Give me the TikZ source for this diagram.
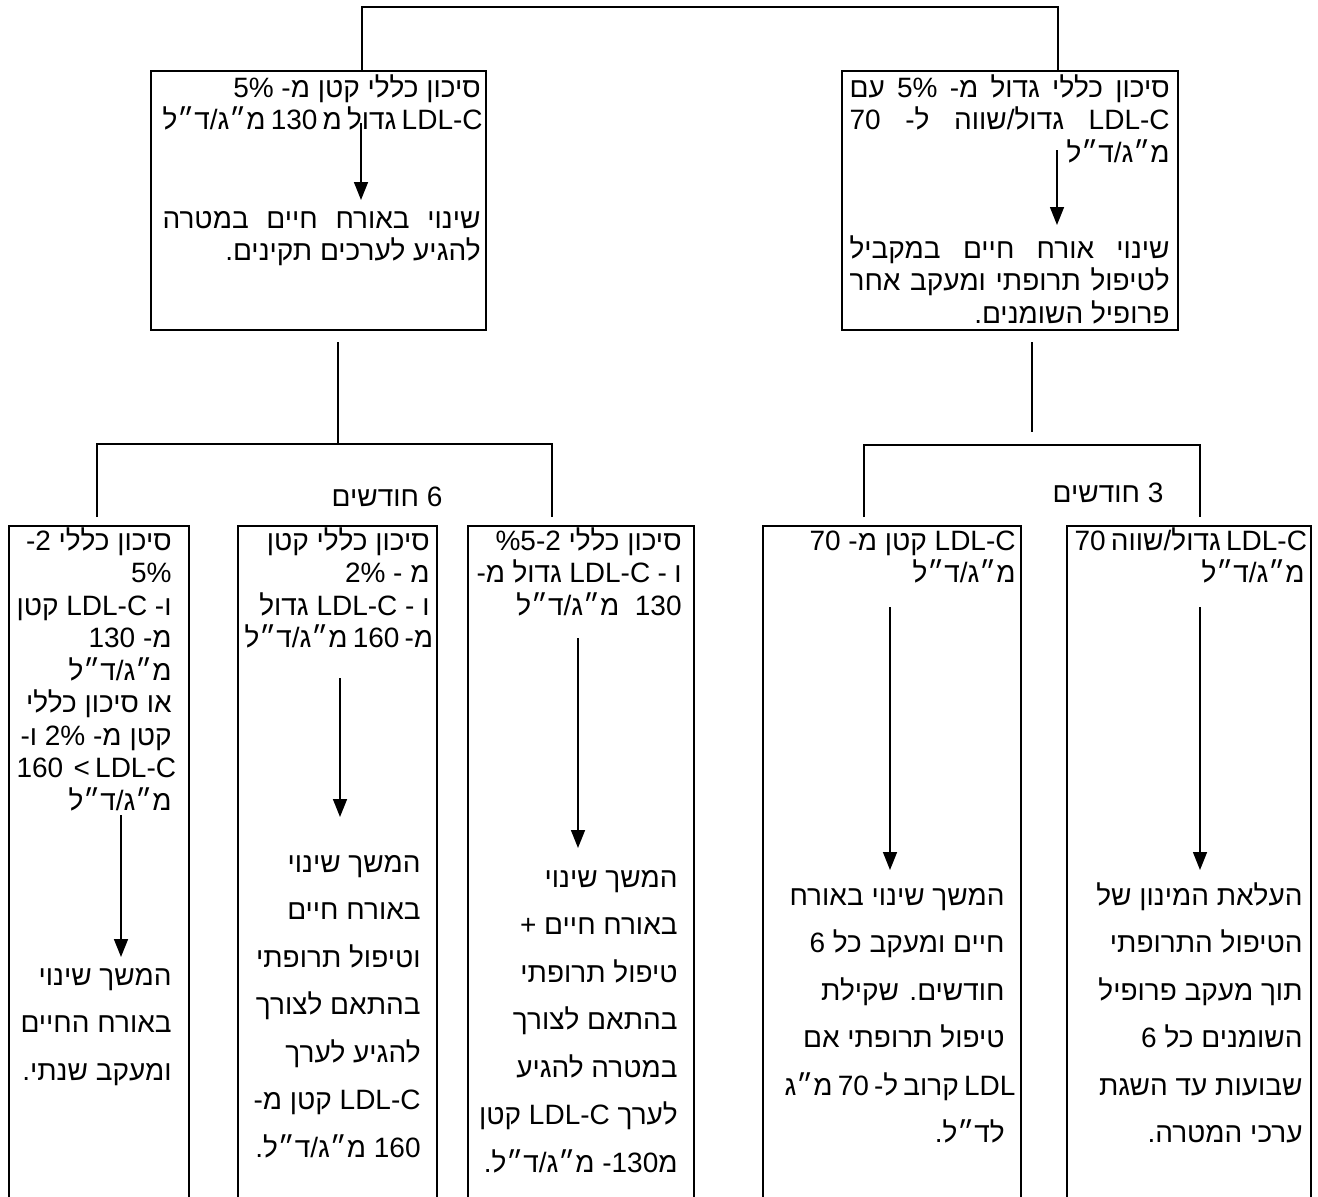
\documentclass[tikz,border=0pt]{standalone}
\usepackage{fontspec}
\setmainfont{Liberation Sans}
\newfontfamily\heb[Script=Hebrew]{Liberation Sans}
\TeXXeTstate=1
\usetikzlibrary{arrows.meta}

\newcommand\rl[1]{\hbox to\hsize{\hfil\beginR #1\endR}}
\newcommand\jl[1]{\hbox to\hsize{\spaceskip=.25em plus 1fil\beginR #1\endR}}

\tikzset{
  box/.style={draw, line width=1.2pt, inner sep=0pt},
  link/.style={line width=.75pt},
  arr/.style={line width=.75pt, -{Triangle[length=9pt,width=7pt]}},
  tight/.style={anchor=base east, inner sep=0pt, font={\heb\fontsize{14}{16.25}\selectfont}},
  loose/.style={tight, font={\heb\fontsize{14}{23.75}\selectfont}},
  months/.style={inner sep=0pt, font={\heb\fontsize{14}{16.25}\selectfont}},
}

\begin{document}
\begin{tikzpicture}[x=.5pt, y=-.5pt]
  \useasboundingbox (0,0) rectangle (1318,1196);

  \node[box, minimum width=167.5pt, minimum height=129.5pt] (tl) at (318.5,200.5) {};
  \node[box, minimum width=168pt,   minimum height=129.5pt] (tr) at (1010,200.5)  {};
  \node[box, minimum width=90pt,    minimum height=339pt]   (b1) at (99,865)     {};
  \node[box, minimum width=99.5pt,  minimum height=339pt]   (b2) at (337.5,865)  {};
  \node[box, minimum width=113pt,   minimum height=339pt]   (b3) at (581,865)    {};
  \node[box, minimum width=129pt,   minimum height=339pt]   (b4) at (892,865)    {};
  \node[box, minimum width=122pt,   minimum height=339pt]   (b5) at (1189,865)   {};

  % top
  \node[tight] (tla) at (481,97) {\parbox[t]{159pt}{%
    \rl{סיכון כללי קטן מ- 5\%}
    \rl{LDL-C גדול מ 130 מ״ג/ד״ל}}};
  \node[tight] (tlb) at (481,228) {\parbox[t]{159pt}{%
    \jl{שינוי באורח חיים במטרה}
    \rl{להגיע לערכים תקינים.}}};
  \node[tight] (tra) at (1170,97) {\parbox[t]{160pt}{%
    \jl{סיכון כללי גדול מ- 5\% עם}
    \jl{LDL-C גדול/שווה ל- 70}
    \rl{מ״ג/ד״ל}}};
  \node[tight] (trb) at (1170,258) {\parbox[t]{160pt}{%
    \jl{שינוי אורח חיים במקביל}
    \jl{לטיפול תרופתי ומעקב אחר}
    \rl{פרופיל השומנים.}}};

  % bottom
  \node[tight] (b1a) at (172,550) {\parbox[t]{77.5pt}{%
    \rl{סיכון כללי 2-}
    \rl{5\%}
    \rl{ו- LDL-C קטן}
    \rl{מ- 130}
    \rl{מ״ג/ד״ל}
    \rl{או סיכון כללי}
    \rl{קטן מ- 2\% ו-}
    \rl{\beginL 160\ \ > LDL-C\endL}
    \rl{מ״ג/ד״ל}}};
  \node[loose] (b1b) at (172,985) {\parbox[t]{77.5pt}{%
    \rl{המשך שינוי}
    \rl{באורח החיים}
    \rl{ומעקב שנתי.}}};
  \node[tight] (b2a) at (430,550) {\parbox[t]{92.5pt}{%
    \rl{סיכון כללי קטן}
    \rl{מ - 2\%}
    \rl{ו - LDL-C גדול}
    \rl{מ- 160 מ״ג/ד״ל}}};
  \node[loose] (b2b) at (421,872) {\parbox[t]{87.5pt}{%
    \rl{המשך שינוי}
    \rl{באורח חיים}
    \rl{וטיפול תרופתי}
    \rl{בהתאם לצורך}
    \rl{להגיע לערך}
    \rl{LDL-C קטן מ-}
    \rl{160 מ״ג/ד״ל.}}};
  \node[tight] (b3a) at (682,550) {\parbox[t]{102.5pt}{%
    \rl{סיכון כללי \%5-2}
    \rl{ו - LDL-C גדול מ-}
    \rl{130\ \ מ״ג/ד״ל}}};
  \node[loose] (b3b) at (678,887) {\parbox[t]{100pt}{%
    \rl{המשך שינוי}
    \rl{באורח חיים +}
    \rl{טיפול תרופתי}
    \rl{בהתאם לצורך}
    \rl{במטרה להגיע}
    \rl{לערך LDL-C קטן}
    \rl{מ130- מ״ג/ד״ל.}}};
  \node[tight] (b4a) at (1016,550) {\parbox[t]{120pt}{%
    \rl{LDL-C קטן מ- 70}
    \rl{מ״ג/ד״ל}}};
  \node[loose] (b4b) at (1005,905) {\parbox[t]{110pt}{%
    \rl{המשך שינוי באורח}
    \rl{חיים ומעקב כל 6}
    \rl{חודשים. שקילת}
    \rl{טיפול תרופתי אם}
    \rl{LDL קרוב ל- 70 מ״ג}
    \rl{לד״ל.}}};
  \node[tight] (b5a) at (1305,550) {\parbox[t]{115pt}{%
    \rl{LDL-C גדול/שווה 70}
    \rl{מ״ג/ד״ל}}};
  \node[loose] (b5b) at (1303,905) {\parbox[t]{110pt}{%
    \rl{העלאת המינון של}
    \rl{הטיפול התרופתי}
    \rl{תוך מעקב פרופיל}
    \rl{השומנים כל 6}
    \rl{שבועות עד השגת}
    \rl{ערכי המטרה.}}};

  \node[months] (six)   at (387,497)  {\beginR 6 חודשים\endR};
  \node[months] (three) at (1108,493) {\beginR 3 חודשים\endR};

  % tree
  \coordinate (topl) at (362,7);
  \coordinate (topr) at (1058,7);
  \draw[link] (tl.north -| topl) -- (topl) -- (topr) -- (tr.north -| topr);

  \coordinate (ls) at (338,342);
  \coordinate (lf) at (338,444);
  \coordinate (l1) at (97,517);
  \coordinate (l3) at (552,517);
  \draw[link] (ls) -- (lf);
  \draw[link] (l1) |- (lf) -| (l3);

  \coordinate (rs) at (1032,342);
  \coordinate (rf) at (1032,432);
  \coordinate (r4) at (864,517);
  \coordinate (r5) at (1200,517);
  \draw[link] (rs) -- (rf);
  \draw[link] (r4) |- ([yshift=-6.5pt]rf -| r5) -- (r5);

  % arrows
  \foreach \n/\x/\a/\b in {tl/361/123/200, tr/1057/150/225, b1/121/815/957,
      b2/340/678/817, b3/578/638/848, b4/890/607/870, b5/1200/607/870}{
    \coordinate (\n s) at (\x,\a);
    \coordinate (\n e) at (\x,\b);
    \draw[arr] (\n s) -- (\n e);
  }
\end{tikzpicture}
\end{document}
